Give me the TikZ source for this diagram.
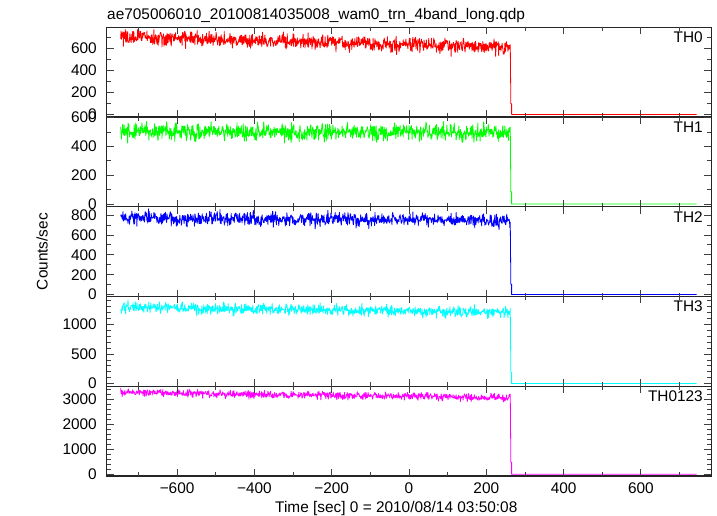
\documentclass[tikz,border=0pt]{standalone}
\usepackage{fontspec}
\setmainfont{Liberation Sans}
\definecolor{thred}{RGB}{255,0,0}
\definecolor{thgreen}{RGB}{0,255,0}
\definecolor{thblue}{RGB}{0,0,255}
\definecolor{thcyan}{RGB}{0,255,255}
\definecolor{thmagenta}{RGB}{255,0,255}
\begin{document}
\begin{tikzpicture}[x=1pt,y=1pt,
  frame line/.style={line width=1.2pt,draw=black!85},
  tick line/.style={line width=0.9pt,draw=black!75},
  data line/.style={line width=0.8pt,line join=round},
  tick label/.style={font=\fontsize{15.4}{16}\selectfont,inner sep=0pt},
  panel label/.style={font=\fontsize{15.4}{16}\selectfont,inner sep=0pt,anchor=base east}]

\useasboundingbox (0,0) rectangle (717,516);
\pgfmathsetseed{20100814}

% Frame limits (t = -782 .. 782)
\def\xl{106.8}
\def\xr{711.2}

% Panels: top / zero / scale / major / minor / max tick / name / colour / start / end / sigma / step value
\foreach \ft/\fz/\fs/\fmaj/\fmin/\fmax/\fname/\fcol/\fvb/\fve/\fsig/\fint in {
  488.7/401.3/0.110/200/100/700/TH0/thred/705/612/34/100,
  399.0/311.7/0.1445/200/100/600/TH1/thgreen/502/498/29/87,
  309.2/221.3/0.0995/200/100/800/TH2/thblue/775/742/34/105,
  219.5/132.3/0.0592/500/100/1400/TH3/thcyan/1290/1205/46/190,
  129.7/41.7/0.0251/1000/200/3400/TH0123/thmagenta/3265/3050/74/480}
{
  % Light curve
  \pgfmathsetmacro\fslope{(\fve-\fvb)/1008}
  \begin{scope}[shift={(409pt,\fz pt)},x=0.3865pt,y=\fs pt]
    \draw[data line,draw=\fcol] plot[domain=-746:262,samples=1009]
      (\x,{\fvb+\fslope*(\x+746)+\fsig*(rand+rand+rand)})
      -- (263.5,\fint) -- (265.5,\fint) -- (265.5,2) -- (744,2);
  \end{scope}

  % Frame
  \draw[frame line] (\xl,\ft) rectangle (\xr,\ft-89.74);

  % Y ticks
  \foreach \v in {0,\fmin,...,\fmax} {
    \pgfmathsetmacro\yy{\fz+\v*\fs}
    \pgfmathtruncatemacro\ismaj{mod(\v,\fmaj)==0 ? 1 : 0}
    \ifnum\ismaj=1
      \draw[tick line] (\xl,\yy) -- ++(7,0);
      \draw[tick line] (\xr,\yy) -- ++(-7,0);
      \node[tick label,anchor=east] at (97,\yy) {\v};
    \else
      \draw[tick line] (\xl,\yy) -- ++(4,0);
      \draw[tick line] (\xr,\yy) -- ++(-4,0);
    \fi
  }

  % X ticks
  \foreach \t in {-700,-600,...,700} {
    \pgfmathsetmacro\xx{409+0.3865*\t}
    \pgfmathsetmacro\tl{mod(abs(\t),200)==0 ? 7 : 4}
    \draw[tick line] (\xx,\ft) -- ++(0,-\tl);
    \draw[tick line] (\xx,\ft-89.74) -- ++(0,\tl);
  }

  % Band name
  \node[panel label] (name\fname) at (703,\ft-15.4) {\fname};
}

% X tick labels
\foreach \t/\lab [count=\i] in {-600/−600,-400/−400,-200/−200,0/0,200/200,400/400,600/600}
  \node[tick label,anchor=base] (xlab\i) at ({409+0.3865*\t},22.7) {\lab};

% Axis titles
\node[tick label,anchor=base west] (title) at (107,496) {ae705006010\_20100814035008\_wam0\_trn\_4band\_long.qdp};
\node[tick label,anchor=base west] (xtitle) at (275,3.7) {Time [sec] 0 = 2010/08/14 03:50:08};
\node[tick label,rotate=90] (ytitle) at (42,264.4) {Counts/sec};

\end{tikzpicture}
\end{document}
